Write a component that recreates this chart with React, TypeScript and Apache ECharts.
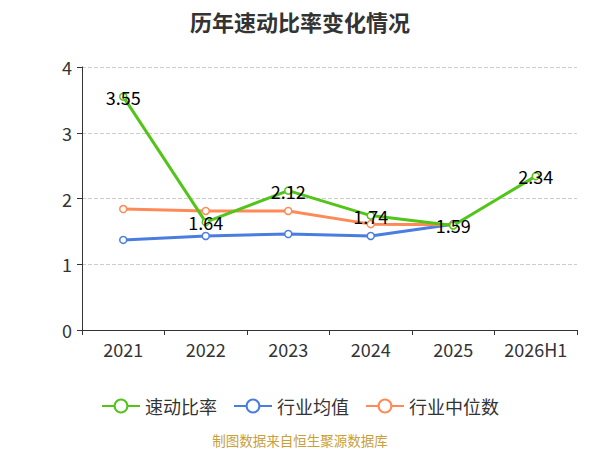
import React, { useEffect, useRef } from "react";
import * as echarts from "echarts";

const categories = ["2021", "2022", "2023", "2024", "2025", "2026H1"];
const quickRatio = [3.55, 1.64, 2.12, 1.74, 1.59, 2.34];
const industryAvg = [1.37, 1.43, 1.46, 1.43, 1.61, null];
const industryMedian = [1.84, 1.81, 1.81, 1.61, 1.6, null];
const yTicks = { min: 0, max: 4, interval: 1 };

export default function App() {
  const ref = useRef<HTMLDivElement>(null);
  useEffect(() => {
    const chart = echarts.init(ref.current!, undefined, { renderer: "svg" });
    const font = "'Microsoft YaHei', 'Noto Sans CJK SC', sans-serif";
    chart.setOption({
      animation: false,
      textStyle: { fontFamily: font },
      title: {
        text: "历年速动比率变化情况",
        left: "center",
        top: 5,
        textStyle: { fontSize: 22, fontWeight: "bold", color: "#333", fontFamily: font },
      },
      legend: {
        top: 392,
        left: "center",
        itemWidth: 38,
        itemHeight: 16,
        itemGap: 16,
        textStyle: { fontSize: 18, color: "#333", fontFamily: font },
        data: ["速动比率", "行业均值", "行业中位数"],
      },
      grid: { left: 82, right: 23, top: 67, bottom: 120 },
      xAxis: {
        type: "category",
        data: categories,
        boundaryGap: true,
        axisLine: { lineStyle: { color: "#333" } },
        axisTick: { show: true, lineStyle: { color: "#333" } },
        axisLabel: { fontSize: 18, color: "#333", margin: 10 },
      },
      yAxis: {
        type: "value",
        min: yTicks.min,
        max: yTicks.max,
        interval: yTicks.interval,
        axisLine: { show: true, lineStyle: { color: "#333" } },
        axisTick: { show: true, lineStyle: { color: "#333" } },
        axisLabel: { fontSize: 18, color: "#333", margin: 10 },
        splitLine: { lineStyle: { type: "dashed", color: "#ccc" } },
      },
      graphic: [
        {
          type: "text",
          left: "center",
          top: 433,
          style: { text: "制图数据来自恒生聚源数据库", fill: "#c8a03a", fontSize: 13.5, fontFamily: font },
        },
      ],
      series: [
        {
          name: "速动比率",
          type: "line",
          data: quickRatio,
          symbol: "circle",
          symbolSize: 7,
          color: "#52c41a",
          lineStyle: { width: 3, color: "#52c41a" },
          itemStyle: { color: "#fff", borderColor: "#52c41a", borderWidth: 1.5 },
          label: { show: true, position: "inside", fontSize: 18, color: "#000", fontFamily: font },
          z: 3,
        },
        {
          name: "行业均值",
          type: "line",
          data: industryAvg,
          symbol: "circle",
          symbolSize: 7,
          color: "#4a7de0",
          lineStyle: { width: 3, color: "#4a7de0" },
          itemStyle: { color: "#fff", borderColor: "#4a7de0", borderWidth: 1.5 },
          z: 2,
        },
        {
          name: "行业中位数",
          type: "line",
          data: industryMedian,
          symbol: "circle",
          symbolSize: 7,
          color: "#ff8a57",
          lineStyle: { width: 3, color: "#ff8a57" },
          itemStyle: { color: "#fff", borderColor: "#ff8a57", borderWidth: 1.5 },
          z: 2,
        },
      ],
    });
    return () => chart.dispose();
  }, []);
  return <div ref={ref} style={{ width: 600, height: 450, position: "absolute", left: 0, top: 0 }} />;
}
